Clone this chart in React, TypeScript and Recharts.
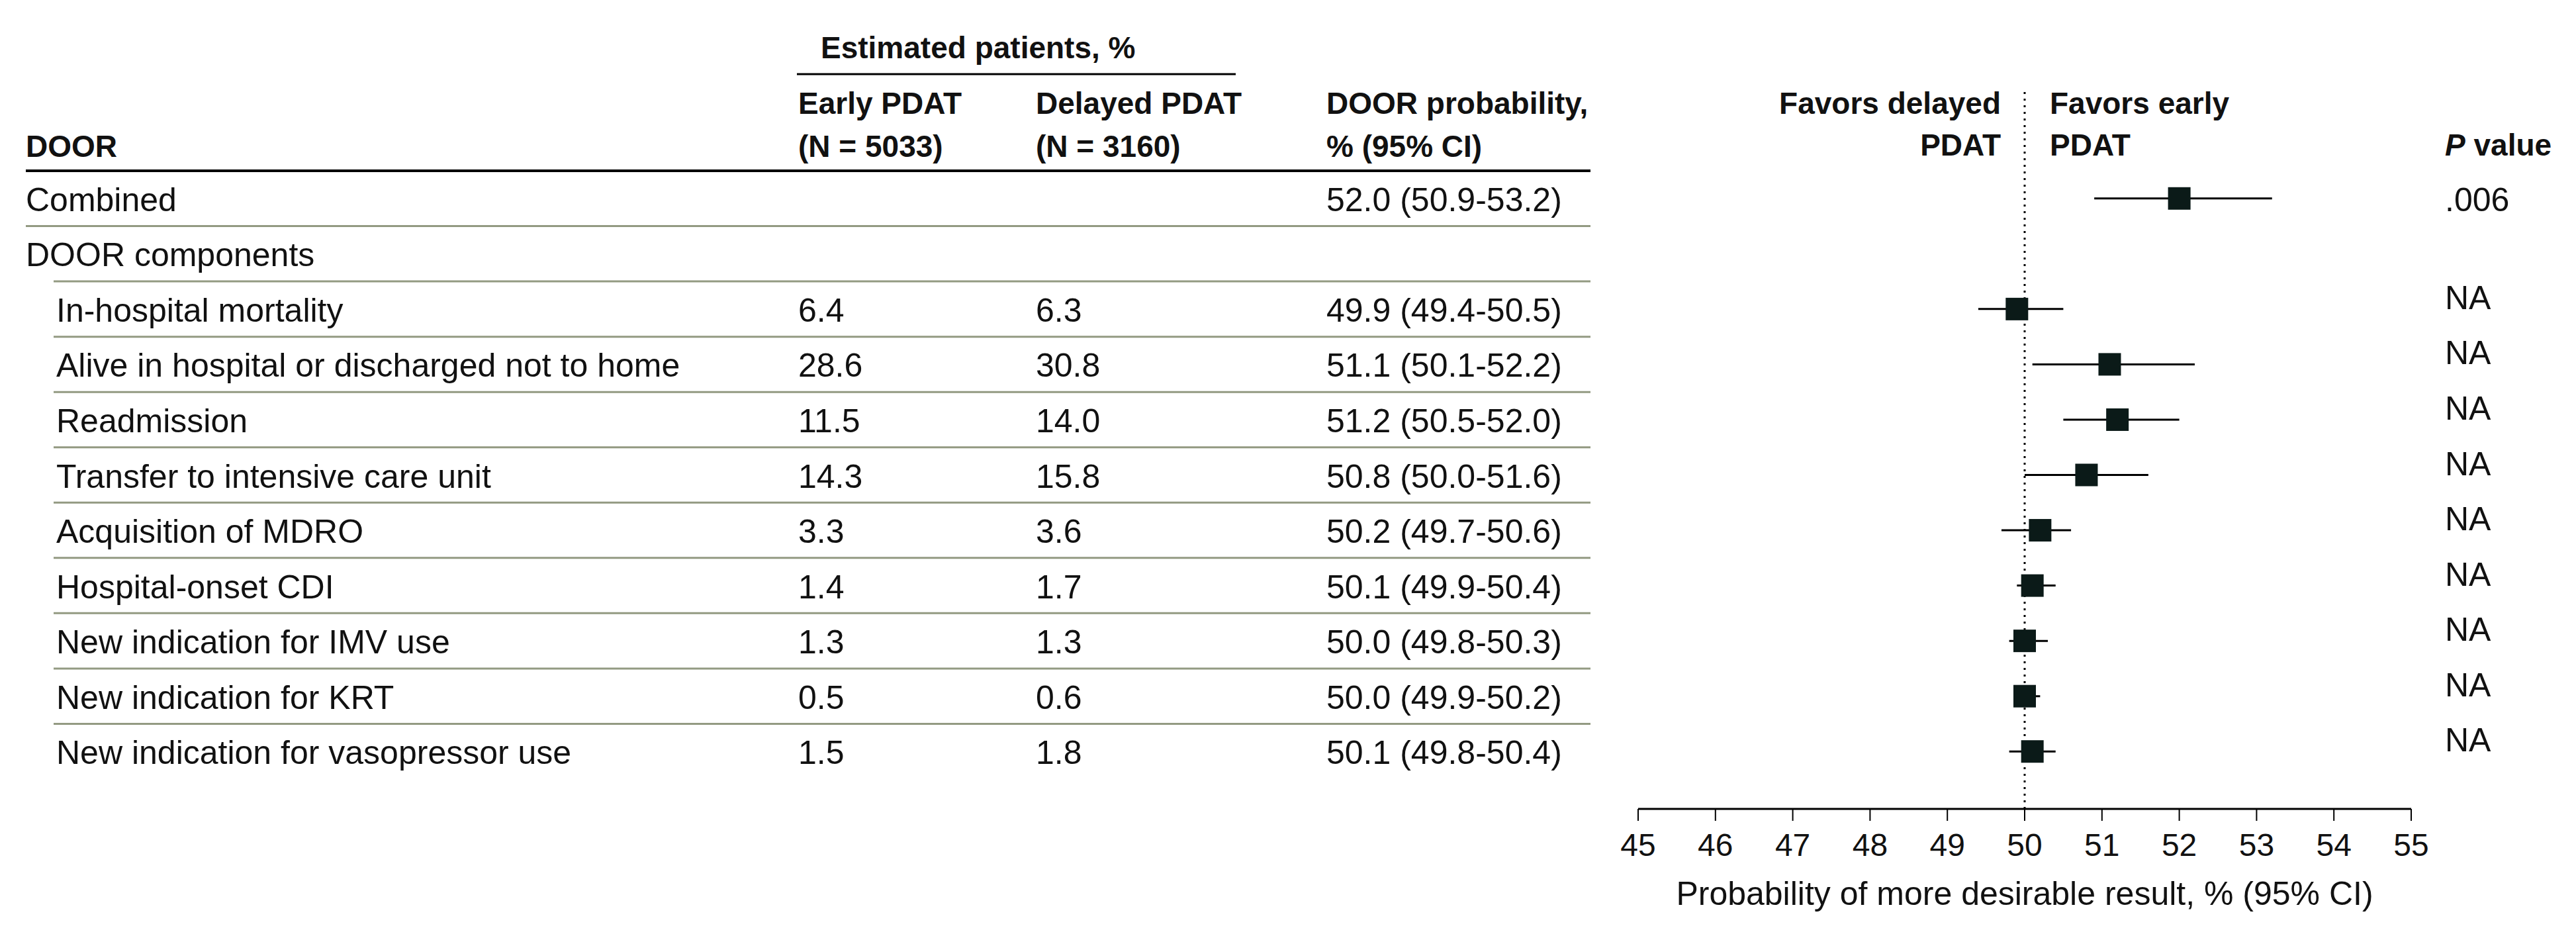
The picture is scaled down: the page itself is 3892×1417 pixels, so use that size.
import React from 'react';
import {
  ComposedChart,
  Scatter,
  ErrorBar,
  XAxis,
  YAxis,
  ReferenceLine,
  Customized,
} from 'recharts';

// rows of the DOOR table (top to bottom)
const labels = [
  'Combined',
  'DOOR components',
  'In-hospital mortality',
  'Alive in hospital or discharged not to home',
  'Readmission',
  'Transfer to intensive care unit',
  'Acquisition of MDRO',
  'Hospital-onset CDI',
  'New indication for IMV use',
  'New indication for KRT',
  'New indication for vasopressor use',
];
const rowKinds = ['combined', 'section', 'item', 'item', 'item', 'item', 'item', 'item', 'item', 'item', 'item'];
const earlyPct = [null, null, 6.4, 28.6, 11.5, 14.3, 3.3, 1.4, 1.3, 0.5, 1.5];
const delayedPct = [null, null, 6.3, 30.8, 14.0, 15.8, 3.6, 1.7, 1.3, 0.6, 1.8];
const doorProb = [52.0, null, 49.9, 51.1, 51.2, 50.8, 50.2, 50.1, 50.0, 50.0, 50.1];
const ciLow = [50.9, null, 49.4, 50.1, 50.5, 50.0, 49.7, 49.9, 49.8, 49.9, 49.8];
const ciHigh = [53.2, null, 50.5, 52.2, 52.0, 51.6, 50.6, 50.4, 50.3, 50.2, 50.4];
const pValues = ['.006', '', 'NA', 'NA', 'NA', 'NA', 'NA', 'NA', 'NA', 'NA', 'NA'];
const xTicks = [45, 46, 47, 48, 49, 50, 51, 52, 53, 54, 55];

const rows = labels.map((label, i) => ({
  pos: i,
  label,
  kind: rowKinds[i],
  early: earlyPct[i],
  delayed: delayedPct[i],
  est: doorProb[i],
  lo: ciLow[i],
  hi: ciHigh[i],
  p: pValues[i],
  err: doorProb[i] == null ? undefined : [doorProb[i] - ciLow[i], ciHigh[i] - doorProb[i]],
}));
const rowTicks = rows.map((r) => r.pos);

// layout
const W = 3892;
const H = 1417;
const PLOT_TOP = 133;
const TABLE_TOP = 258;
const TABLE_BOTTOM = 1177;
const AXIS_Y = 1222;
const PLOT_LEFT = 2475;
const PLOT_RIGHT = 3643;
const X_AXIS_H = 150;
const ROW_H = (TABLE_BOTTOM - TABLE_TOP) / rows.length;

const COL_LABEL = 39;
const COL_ITEM = 85;
const COL_EARLY = 1206;
const COL_DELAYED = 1565;
const COL_DOOR = 2004;
const COL_P = 3694;
const LINE_END = 2403;

const TEXT = '#111';
const RULE = '#939a82';
const BODY_FS = 50;
const HEAD_FS = 46;

const fmt = (v) => v.toFixed(1);

function RowTick(props) {
  const { y, payload } = props;
  const row = rows[payload.value];
  if (!row) return null;
  const top = y - ROW_H / 2;
  const base = y + 19;
  const labelX = row.kind === 'item' ? COL_ITEM : COL_LABEL;
  return (
    <g>
      {row.kind === 'combined' ? (
        <line x1={COL_LABEL} x2={LINE_END} y1={top} y2={top} stroke="#000" strokeWidth={4} />
      ) : (
        <line x1={row.kind === 'item' ? 81 : COL_LABEL} x2={LINE_END} y1={top} y2={top} stroke={RULE} strokeWidth={3} />
      )}
      <text x={labelX} y={base} fontSize={BODY_FS} fill={TEXT}>{row.label}</text>
      {row.early != null && (
        <text x={COL_EARLY} y={base} fontSize={BODY_FS} fill={TEXT}>{fmt(row.early)}</text>
      )}
      {row.delayed != null && (
        <text x={COL_DELAYED} y={base} fontSize={BODY_FS} fill={TEXT}>{fmt(row.delayed)}</text>
      )}
      {row.est != null && (
        <text x={COL_DOOR} y={base} fontSize={BODY_FS} fill={TEXT}>
          {`${fmt(row.est)} (${fmt(row.lo)}-${fmt(row.hi)})`}
        </text>
      )}
      {row.p && (
        <text x={COL_P} y={row.p === 'NA' ? y : base} fontSize={BODY_FS} fill={TEXT}>{row.p}</text>
      )}
    </g>
  );
}

function Header() {
  const b = { fontSize: HEAD_FS, fontWeight: 700, fill: TEXT };
  return (
    <g>
      <text x={1240} y={88} {...b}>Estimated patients, %</text>
      <line x1={1204} x2={1867} y1={112} y2={112} stroke="#000" strokeWidth={3} />
      <text x={COL_EARLY} y={172} {...b}>Early PDAT</text>
      <text x={COL_EARLY} y={237} {...b}>(N = 5033)</text>
      <text x={COL_DELAYED} y={172} {...b}>Delayed PDAT</text>
      <text x={COL_DELAYED} y={237} {...b}>(N = 3160)</text>
      <text x={COL_DOOR} y={172} {...b}>DOOR probability,</text>
      <text x={COL_DOOR} y={237} {...b}>% (95% CI)</text>
      <text x={COL_LABEL} y={237} {...b}>DOOR</text>
      <text x={3023} y={172} textAnchor="end" {...b}>Favors delayed</text>
      <text x={3023} y={235} textAnchor="end" {...b}>PDAT</text>
      <text x={3097} y={172} {...b}>Favors early</text>
      <text x={3097} y={235} {...b}>PDAT</text>
      <text x={COL_P} y={235} {...b}>
        <tspan fontStyle="italic">P</tspan> value
      </text>
    </g>
  );
}

function Marker(props) {
  const { cx, cy, payload } = props;
  if (payload == null || payload.est == null || cx == null || cy == null) return null;
  const s = 34;
  return <rect x={cx - s / 2} y={cy - s / 2} width={s} height={s} fill="#0b1a18" />;
}

export default function App() {
  return (
    <div
      style={{
        position: 'absolute',
        left: 0,
        top: 0,
        width: W,
        height: H,
        background: '#fff',
        fontFamily: '"Liberation Sans", Arial, sans-serif',
      }}
    >
      <ComposedChart
        width={W}
        height={H}
        data={rows}
        layout="vertical"
        margin={{ top: PLOT_TOP, right: W - PLOT_RIGHT, bottom: H - AXIS_Y - X_AXIS_H, left: 0 }}
      >
        <XAxis
          type="number"
          dataKey="est"
          domain={[45, 55]}
          ticks={xTicks}
          allowDataOverflow
          height={X_AXIS_H}
          axisLine={{ stroke: '#000', strokeWidth: 3 }}
          tickLine={{ stroke: '#000', strokeWidth: 2 }}
          tickSize={18}
          tickMargin={19}
          tick={{ fontSize: 48, fill: TEXT }}
          label={{
            value: 'Probability of more desirable result, % (95% CI)',
            position: 'insideBottom',
            offset: 5,
            fontSize: BODY_FS,
            fill: TEXT,
          }}
        />
        <YAxis
          type="number"
          dataKey="pos"
          domain={[-0.5, rows.length - 0.5]}
          ticks={rowTicks}
          allowDataOverflow
          width={PLOT_LEFT}
          interval={0}
          axisLine={false}
          tickLine={false}
          padding={{ top: TABLE_TOP - PLOT_TOP, bottom: AXIS_Y - TABLE_BOTTOM }}
          tick={RowTick}
        />
        <ReferenceLine x={50} stroke="#000" strokeWidth={3} strokeDasharray="3 7" />
        <Scatter dataKey="est" shape={Marker} isAnimationActive={false}>
          <ErrorBar dataKey="err" direction="x" width={0} stroke="#000" strokeWidth={3} />
        </Scatter>
        <Customized component={Header} />
      </ComposedChart>
    </div>
  );
}
